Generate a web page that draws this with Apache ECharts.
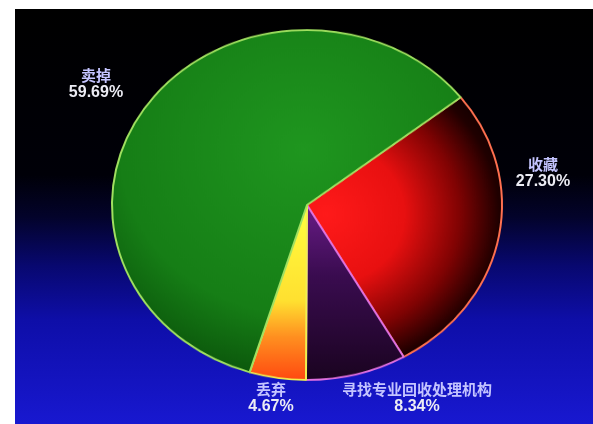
<!DOCTYPE html>
<html><head><meta charset="utf-8">
<script src="https://cdn.jsdelivr.net/npm/echarts@6/dist/echarts.min.js"></script>
<style>
html,body{margin:0;padding:0;background:#fff;}
#wrap{position:relative;width:593px;height:424px;overflow:hidden;background:#fff;}
#lab{position:absolute;left:0;top:0;width:593px;height:424px;}
#pie{position:absolute;left:0;top:0;width:593px;height:424px;transform:scaleY(0.897);transform-origin:0 205px;}
</style>
</head><body>
<div id="wrap"><div id="lab"></div><div id="pie"></div></div>
<script>
// ---- data ----
const categories = ['收藏', '寻找专业回收处理机构', '丢弃', '卖掉'];
const values = [27.30, 8.34, 4.67, 59.69];

// ---- styles / layout (not data) ----
const sliceFills = [
  {type:'radial', x:0.1, y:0.45, r:1.0, colorStops:[
    {offset:0, color:'#ff1a1a'},{offset:0.4, color:'#e81010'},{offset:0.68, color:'#800303'},
    {offset:0.88, color:'#200000'},{offset:1, color:'#0c0000'}]},
  {type:'linear', x:0, y:0, x2:0, y2:1, colorStops:[
    {offset:0, color:'#6a1c88'},{offset:0.4, color:'#3a0c50'},{offset:1, color:'#1a0420'}]},
  {type:'linear', x:0, y:0, x2:0, y2:1, colorStops:[
    {offset:0, color:'#ffff40'},{offset:0.55, color:'#ffe030'},{offset:0.75, color:'#ff9020'},{offset:1, color:'#ff4810'}]},
  {type:'radial', x:0.55, y:0.35, r:0.75, colorStops:[
    {offset:0, color:'#1f961f'},{offset:0.7, color:'#167e16'},{offset:1, color:'#0b540b'}]}
];
const sliceBorders = ['#ff7050', '#e070e0', '#f0f050', '#a0e060'];
const labelPos = [[543, 173], [417, 398], [271, 398], [96, 84]];

const pieData = categories.map((c, i) => ({
  name: c, value: values[i],
  itemStyle: {color: sliceFills[i], borderColor: sliceBorders[i], borderWidth: 2}
}));

const pieChart = echarts.init(document.getElementById('pie'), null, {renderer:'canvas'});
pieChart.setOption({
  backgroundColor: 'transparent',
  animation: false,
  series: [{
    type: 'pie', center: [307, 205], radius: [0, 195], startAngle: 38, clockwise: true,
    label: {show: false}, labelLine: {show: false}, silent: true,
    data: pieData
  }]
});

const labChart = echarts.init(document.getElementById('lab'), null, {renderer:'canvas'});
labChart.setOption({
  backgroundColor: '#ffffff',
  animation: false,
  graphic: [{
    type: 'rect', left: 15, top: 9, z: -10, silent: true,
    shape: {width: 578, height: 415},
    style: {fill: {type:'linear', x:0, y:0, x2:0, y2:1, colorStops:[
      {offset:0, color:'#000000'},{offset:0.4, color:'#000008'},{offset:0.5, color:'#03032a'},
      {offset:0.62, color:'#080870'},{offset:0.75, color:'#0e0ea8'},{offset:1, color:'#1818d0'}]}}
  }],
  series: [{
    type: 'pie', center: [307, 205], radius: [0, 195], startAngle: 38, clockwise: true, silent: true,
    itemStyle: {color: 'rgba(0,0,0,0)', borderWidth: 0},
    labelLine: {show: false},
    label: {
      show: true, position: 'outside', overflow: 'none', width: 300,
      formatter: p => '{n|' + p.name + '}\n{v|' + p.value.toFixed(2) + '%}',
      rich: {
        n: {fontSize: 15, color: '#c4c4ff', fontFamily: 'Noto Sans CJK SC', fontWeight: 'bold', lineHeight: 17, align: 'center'},
        v: {fontSize: 16, color: '#ececf4', fontFamily: 'Liberation Sans', fontWeight: 'bold', lineHeight: 17, align: 'center'}
      }
    },
    labelLayout: function (params) {
      const p = labelPos[params.dataIndex];
      return {x: p[0], y: p[1], align: 'center', verticalAlign: 'middle'};
    },
    data: categories.map((c, i) => ({name: c, value: values[i]}))
  }]
});
</script>
</body></html>
